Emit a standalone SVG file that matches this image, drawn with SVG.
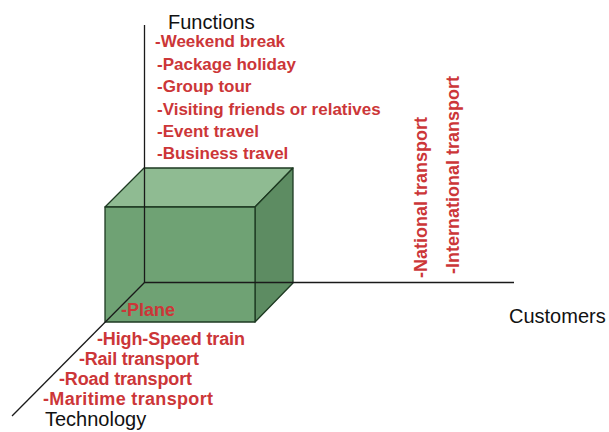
<svg xmlns="http://www.w3.org/2000/svg" width="609" height="432" viewBox="0 0 609 432">
  <style>
    .axis { stroke: #1a1a1a; stroke-width: 1.3; fill: none; }
    .edge { stroke: #1e3a22; stroke-width: 1.3; stroke-linejoin: round; }
    .front { fill: #6fa274; }
    .top { fill: #8fbb92; }
    .side { fill: #5d8c62; }
    .title { font-family: "Liberation Sans", Arial, sans-serif; font-size: 20px; fill: #111; }
    .item { font-family: "Liberation Sans", Arial, sans-serif; font-size: 17px; font-weight: bold; fill: #cc3638; }
    .bitem { font-family: "Liberation Sans", Arial, sans-serif; font-size: 18px; font-weight: bold; fill: #cc3638; }
    .vitem { font-family: "Liberation Sans", Arial, sans-serif; font-size: 18px; font-weight: bold; fill: #cc3638; }
  </style>
  <rect width="609" height="432" fill="#ffffff"/>

  <!-- box standing at the origin of the three axes -->
  <g id="cube">
    <polygon class="top edge" points="105,207 144,168 293,168 255,207"/>
    <polygon class="side edge" points="255,207 293,168 293,283 255,322"/>
    <rect class="front edge" x="105" y="207" width="150" height="115"/>
  </g>

  <!-- axes -->
  <g id="axes">
    <line class="axis" x1="144.5" y1="25" x2="144.5" y2="283"/>
    <line class="axis" x1="144.5" y1="282.5" x2="514" y2="282.5"/>
    <line class="axis" x1="144.5" y1="282.5" x2="12" y2="416"/>
  </g>

  <g id="functions">
    <text class="title" x="168" y="29">Functions</text>
    <text class="item" x="155" y="47">-Weekend break</text>
    <text class="item" x="157" y="69.5">-Package holiday</text>
    <text class="item" x="157" y="92">-Group tour</text>
    <text class="item" x="157" y="114.5">-Visiting friends or relatives</text>
    <text class="item" x="157" y="137">-Event travel</text>
    <text class="item" x="157" y="159">-Business travel</text>
  </g>

  <g id="customers">
    <text class="title" x="509" y="323">Customers</text>
    <text class="vitem" transform="translate(427,278) rotate(-90)">-National transport</text>
    <text class="vitem" transform="translate(459,274) rotate(-90)">-International transport</text>
  </g>

  <g id="technology">
    <text class="bitem" x="121" y="316">-Plane</text>
    <text class="bitem" x="97" y="345" textLength="148">-High-Speed train</text>
    <text class="bitem" x="79" y="365" textLength="120">-Rail transport</text>
    <text class="bitem" x="59" y="385" textLength="133">-Road transport</text>
    <text class="bitem" x="43" y="405" textLength="170">-Maritime transport</text>
    <text class="title" x="45" y="426">Technology</text>
  </g>
</svg>
